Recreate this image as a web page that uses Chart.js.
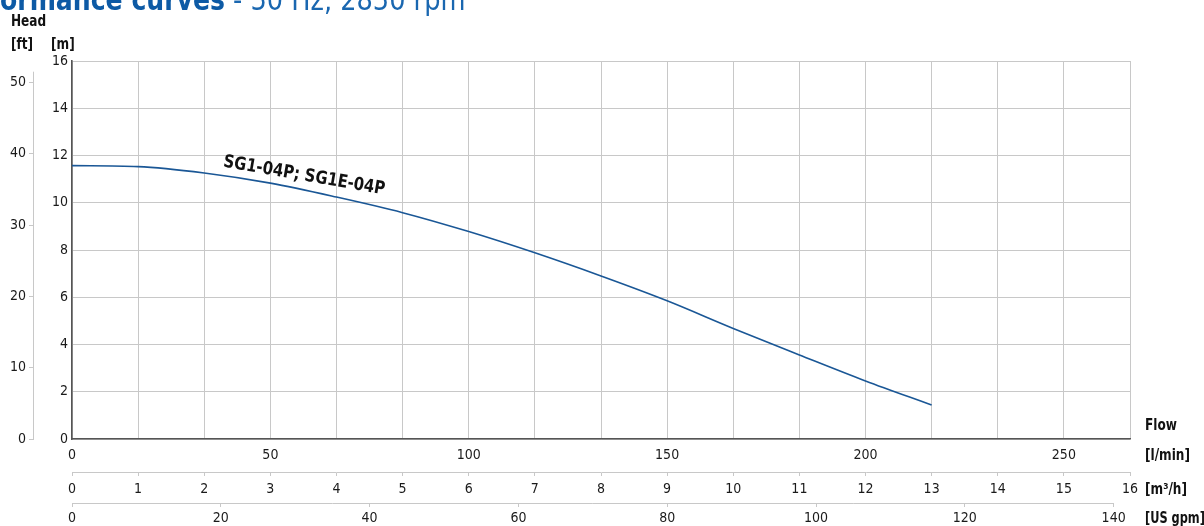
<!DOCTYPE html>
<html>
<head>
<meta charset="utf-8">
<script src="https://cdn.jsdelivr.net/npm/chart.js@4/dist/chart.umd.min.js"></script>
<style>
  html,body{margin:0;padding:0;background:#fff;overflow:hidden;}
  #wrap{position:relative;width:1204px;height:526px;}
</style>
</head>
<body>
<div id="wrap"><canvas id="c"></canvas></div>
<script>
// ---- data ----
const flowM3h = [0, 1, 2, 3, 4, 5, 6, 7, 8, 9, 10, 11, 12, 13];
const headM   = [11.57, 11.53, 11.26, 10.83, 10.24, 9.58, 8.78, 7.88, 6.9, 5.85, 4.68, 3.56, 2.46, 1.44];
const curveName = 'SG1-04P; SG1E-04P';
const lpmTicks = [0, 50, 100, 150, 200, 250];
const m3hTicks = [0, 1, 2, 3, 4, 5, 6, 7, 8, 9, 10, 11, 12, 13, 14, 15, 16];
const gpmTicks = [0, 20, 40, 60, 80, 100, 120, 140];
const mTicks   = [0, 2, 4, 6, 8, 10, 12, 14, 16];
const ftTicks  = [0, 10, 20, 30, 40, 50];
const titleBold = 'Performance curves';
const titleRegular = '- 50 Hz, 2850 rpm';

const FONT = "'Liberation Sans Narrow','DejaVu Sans Condensed','Open Sans',sans-serif";
Chart.defaults.font.family = FONT;
Chart.defaults.font.size = 14;
Chart.defaults.color = '#1a1a1a';

const GRID = '#c8c8c8';
const AXIS_DARK = '#555';

function setTicks(arr){ return s => { s.ticks = arr.map(v => ({value: v})); }; }

// draw text horizontally condensed by factor k
function txt(ctx, s, x, y, k, align){
  ctx.save();
  ctx.translate(x, y);
  ctx.scale(k, 1);
  ctx.textAlign = align || 'left';
  ctx.fillText(s, 0, 0);
  ctx.restore();
}

const textPlugin = {
  id: 'texts',
  afterDraw(chart){
    const ctx = chart.ctx, sc = chart.scales;
    ctx.save();
    // gpm axis line (ends at last tick)
    const g = sc.xG;
    ctx.strokeStyle = GRID; ctx.lineWidth = 1;
    ctx.beginPath();
    ctx.moveTo(g.getPixelForValue(gpmTicks[0]), g.top + 0.5);
    ctx.lineTo(g.getPixelForValue(gpmTicks[gpmTicks.length-1]), g.top + 0.5);
    ctx.stroke();
    // ft axis line
    const f = sc.yF;
    ctx.beginPath();
    ctx.moveTo(f.right - 0.5, f.getPixelForValue(0));
    ctx.lineTo(f.right - 0.5, f.getPixelForValue(51.5));
    ctx.stroke();

    // title (partly cut off at top)
    ctx.textBaseline = 'alphabetic';
    ctx.fillStyle = '#0d5aa5';
    ctx.font = 'bold 30px ' + FONT;
    const kb = 225 / ctx.measureText('ormance curves').width;
    txt(ctx, titleBold, 225, 10, kb, 'right');
    ctx.fillStyle = '#1a67b0';
    ctx.font = '30px ' + FONT;
    const kr = 215 / ctx.measureText('50 Hz, 2850 rpm').width;
    txt(ctx, titleRegular, 233, 10, kr, 'left');

    // axis titles
    ctx.fillStyle = '#111';
    ctx.font = 'bold 16px ' + FONT;
    const k = 0.84;
    txt(ctx, 'Head', 11, 26, k);
    txt(ctx, '[ft]', 11, 49, k);
    txt(ctx, '[m]', 51, 49, k);
    ctx.textBaseline = 'middle';
    const xr = 1145;
    txt(ctx, 'Flow', xr, chart.chartArea.bottom - 13, k);
    txt(ctx, '[l/min]', xr, sc.xL.top + 17, k);
    txt(ctx, '[m³/h]', xr, sc.x.top + 18, k);
    txt(ctx, '[US gpm]', xr, sc.xG.top + 16, 0.79);

    // curve label
    const px = sc.x.getPixelForValue(2.28), py = sc.y.getPixelForValue(11.53);
    ctx.translate(px, py);
    ctx.rotate(9.8 * Math.PI / 180);
    ctx.textBaseline = 'alphabetic';
    ctx.font = 'bold 18px ' + FONT;
    txt(ctx, curveName, 0, 0, 0.92);
    ctx.restore();
  }
};

new Chart(document.getElementById('c'), {
  type: 'line',
  data: {
    datasets: [{
      label: curveName,
      data: flowM3h.map((q, i) => ({x: q, y: headM[i]})),
      xAxisID: 'x', yAxisID: 'y',
      borderColor: '#1a5796',
      borderWidth: 1.6,
      pointRadius: 0,
      fill: false,
      cubicInterpolationMode: 'monotone'
    }]
  },
  options: {
    responsive: true,
    maintainAspectRatio: false,
    animation: false,
    layout: { padding: { top: 61, right: 74, left: 0, bottom: 0 } },
    plugins: { legend: { display: false }, tooltip: { enabled: false }, title: { display: false } },
    scales: {
      xL: {
        type: 'linear', position: 'bottom', weight: 0, min: 0, max: 800/3,
        afterBuildTicks: setTicks(lpmTicks),
        afterFit: s => { s.height = 33; },
        grid: { drawOnChartArea: false, drawTicks: false },
        border: { display: true, color: AXIS_DARK, width: 1.6 },
        ticks: { padding: 8, maxRotation: 0, autoSkip: false }
      },
      x: {
        type: 'linear', position: 'bottom', weight: 1, min: 0, max: 16,
        afterBuildTicks: setTicks(m3hTicks),
        afterFit: s => { s.height = 31; },
        grid: { color: GRID, drawOnChartArea: true, drawTicks: true, tickLength: 4 },
        border: { display: true, color: GRID, width: 1 },
        ticks: { padding: 5, maxRotation: 0, autoSkip: false }
      },
      xG: {
        type: 'linear', position: 'bottom', weight: 2, min: 0, max: 142.2,
        afterBuildTicks: setTicks(gpmTicks),
        afterFit: s => { s.height = 23; },
        grid: { color: GRID, drawOnChartArea: false, drawTicks: true, tickLength: 4 },
        border: { display: false },
        ticks: { padding: 3, maxRotation: 0, autoSkip: false }
      },
      y: {
        type: 'linear', position: 'left', weight: 0, min: 0, max: 16,
        afterBuildTicks: setTicks(mTicks),
        afterFit: s => { s.width = 38; },
        grid: { color: GRID, drawOnChartArea: true, drawTicks: false },
        border: { display: true, color: AXIS_DARK, width: 1.6 },
        ticks: { padding: 4, autoSkip: false }
      },
      yF: {
        type: 'linear', position: 'left', weight: 1, min: 0, max: 53,
        afterBuildTicks: setTicks(ftTicks),
        afterFit: s => { s.width = 34; },
        grid: { color: GRID, drawOnChartArea: false, drawTicks: true, tickLength: 5 },
        border: { display: false },
        ticks: { padding: 3, autoSkip: false }
      }
    }
  },
  plugins: [textPlugin]
});
</script>
</body>
</html>
